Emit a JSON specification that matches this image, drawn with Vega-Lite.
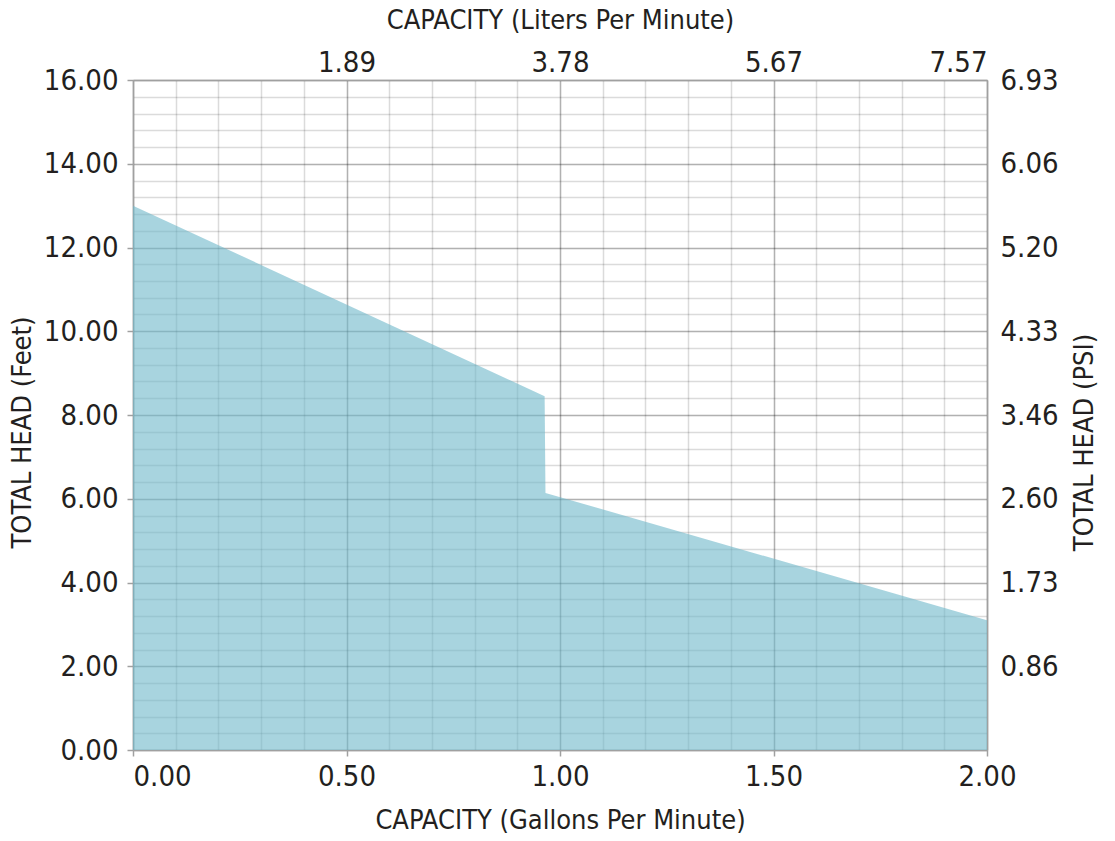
{
  "$schema": "https://vega.github.io/schema/vega-lite/v6.json",
  "width": 854,
  "height": 670,
  "autosize": {"type": "none"},
  "padding": {"left": 133, "top": 80, "right": 128, "bottom": 91},
  "background": "white",
  "config": {
    "view": {"stroke": null},
    "font": "DejaVu Sans Condensed, sans-serif",
    "axis": {
      "labelFont": "DejaVu Sans Condensed, sans-serif",
      "titleFont": "DejaVu Sans Condensed, sans-serif",
      "labelFontSize": 29,
      "titleFontSize": 27,
      "titleFontWeight": "normal",
      "labelColor": "#231f20",
      "titleColor": "#231f20",
      "domainColor": "#a0a0a0",
      "domainWidth": 1.5,
      "tickColor": "#a0a0a0",
      "tickWidth": 1.5,
      "gridColor": "#000000",
      "gridWidth": 1.5
    }
  },
  "data": {
    "values": [
      {"gpm": 0.0, "head": 13.0},
      {"gpm": 0.964, "head": 8.45},
      {"gpm": 0.966, "head": 6.14},
      {"gpm": 2.0, "head": 3.1}
    ]
  },
  "resolve": {"axis": {"x": "independent", "y": "independent"}},
  "layer": [
    {
      "mark": {"type": "area", "opacity": 0},
      "encoding": {
        "x": {
          "field": "gpm", "type": "quantitative",
          "scale": {"domain": [0, 2], "nice": false, "zero": false},
          "axis": {
            "orient": "top",
            "values": [0,0.1,0.2,0.3,0.4,0.5,0.6,0.7,0.8,0.9,1,1.1,1.2,1.3,1.4,1.5,1.6,1.7,1.8,1.9,2],
            "grid": true, "gridOpacity": 0.14,
            "ticks": false, "domain": true,
            "labelExpr": "datum.value==0.5?'1.89':datum.value==1?'3.78':datum.value==1.5?'5.67':datum.value==2?'7.57':''",
            "labelPadding": 3,
            "labelOverlap": false,
            "title": "CAPACITY (Liters Per Minute)",
            "titlePadding": 14
          }
        },
        "y": {
          "field": "head", "type": "quantitative",
          "scale": {"domain": [0, 16], "nice": false},
          "axis": {
            "orient": "right",
            "values": [0,0.4,0.8,1.2,1.6,2,2.4,2.8,3.2,3.6,4,4.4,4.8,5.2,5.6,6,6.4,6.8,7.2,7.6,8,8.4,8.8,9.2,9.6,10,10.4,10.8,11.2,11.6,12,12.4,12.8,13.2,13.6,14,14.4,14.8,15.2,15.6,16],
            "grid": true, "gridOpacity": 0.14,
            "ticks": false, "domain": true,
            "labelExpr": "datum.value==16?'6.93':datum.value==14?'6.06':datum.value==12?'5.20':datum.value==10?'4.33':datum.value==8?'3.46':datum.value==6?'2.60':datum.value==4?'1.73':datum.value==2?'0.86':''",
            "labelPadding": 13,
            "labelOverlap": false,
            "title": "TOTAL HEAD (PSI)",
            "titleAngle": 270,
            "titleBaseline": "top",
            "titlePadding": 13,
            "titleY": 362
          }
        }
      }
    },
    {
      "mark": {"type": "area", "color": "#6eb7ca", "opacity": 0.6},
      "encoding": {
        "x": {
          "field": "gpm", "type": "quantitative",
          "scale": {"domain": [0, 2], "nice": false, "zero": false},
          "axis": {
            "orient": "bottom",
            "values": [0, 0.5, 1, 1.5, 2],
            "format": ".2f",
            "grid": true, "gridOpacity": 0.19,
            "ticks": true, "tickSize": 6,
            "labelPadding": 6,
            "labelAlign": {"condition": {"test": "datum.value==0", "value": "left"}, "value": "center"},
            "labelOverlap": false,
            "title": "CAPACITY (Gallons Per Minute)",
            "titlePadding": 16
          }
        },
        "y": {
          "field": "head", "type": "quantitative",
          "scale": {"domain": [0, 16], "nice": false},
          "axis": {
            "orient": "left",
            "values": [0, 2, 4, 6, 8, 10, 12, 14, 16],
            "format": ".2f",
            "grid": true, "gridOpacity": 0.19,
            "ticks": true, "tickSize": 6,
            "labelPadding": 9,
            "labelOverlap": false,
            "title": "TOTAL HEAD (Feet)",
            "titlePadding": 7,
            "titleY": 352
          }
        }
      }
    }
  ]
}
